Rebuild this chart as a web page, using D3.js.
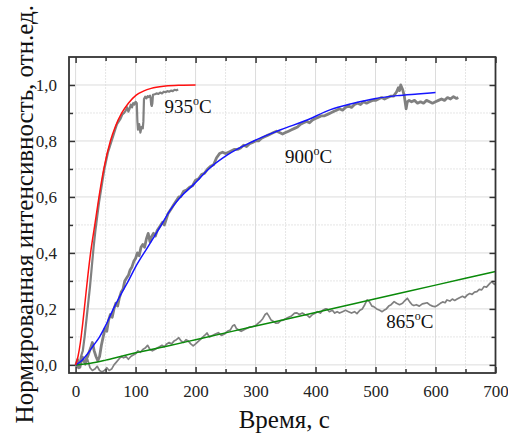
<!DOCTYPE html>
<html><head><meta charset="utf-8">
<script src="https://cdn.jsdelivr.net/npm/d3@7"></script>
</head>
<body style="margin:0">
<svg id="chart" width="508" height="435"></svg>
<script>
// ---- data ----
const xTicks = [0,100,200,300,400,500,600,700];
const yTicks = [0,0.2,0.4,0.6,0.8,1.0];
const xTitle = "Время, с";
const yTitle = "Нормированная интенсивность, отн.ед.";

// fits
const fit935T = [0,4,8,12,16,20,25,32,39,47,58,66,77,88,101,113,126,150,175,200];
const fit935Y = [0,0.03,0.08,0.15,0.23,0.31,0.4,0.5,0.6,0.7,0.8,0.85,0.9,0.935,0.964,0.978,0.988,0.996,0.999,1.0];
const fit900T = [0,10,20,30,40,50,63,75,88,100,120,140,160,175,197,222,253,297,342,386,425,460,500,536,570,600];
const fit900Y = [0,0.015,0.04,0.07,0.1,0.14,0.2,0.25,0.3,0.35,0.42,0.49,0.56,0.6,0.645,0.7,0.75,0.8,0.84,0.875,0.912,0.933,0.952,0.962,0.968,0.973];
const fit865T = [0,25,50,75,100,150,200,300,400,500,600,700];
const fit865Y = [0,0.006,0.017,0.03,0.043,0.066,0.09,0.139,0.187,0.236,0.285,0.334];

// measured
const exp935T = [0,3,6,9,12,15,18,21,24,27,30,33,36,39,42,45,48,51,54,57,60,63,66,69,72,75,78,81,84,86,88,90,92,94,96,98,100,102,103,104,106,108,110,112,113,114,116,118,120,122,124,125,126,127,128,129,132,135,138,141,144,147,150,153,156,159,162,165,168,171];
const exp935Y = [0,0.02,-0.01,0.03,0.05,0.1,0.16,0.22,0.28,0.35,0.42,0.48,0.53,0.58,0.62,0.66,0.7,0.73,0.76,0.78,0.8,0.82,0.84,0.86,0.87,0.88,0.895,0.9,0.91,0.92,0.905,0.915,0.93,0.92,0.935,0.93,0.94,0.935,0.87,0.84,0.86,0.83,0.85,0.845,0.87,0.95,0.958,0.952,0.96,0.957,0.962,0.955,0.93,0.925,0.935,0.965,0.967,0.97,0.968,0.973,0.97,0.976,0.974,0.978,0.976,0.98,0.978,0.983,0.981,0.984];

const exp900T = [0,5,10,15,20,25,28,31,34,37,40,43,46,49,52,55,58,61,64,67,70,73,76,79,82,85,88,91,94,97,100,103,106,109,112,115,118,121,124,127,130,133,136,139,142,145,148,151,154,157,160,163,166,169,172,175,180,185,190,195,200,205,210,215,220,225,230,235,240,245,250,255,260,265,270,275,280,285,290,295,300,305,310,315,320,325,330,335,340,345,350,355,360,365,370,375,380,385,390,395,400,405,410,415,420,425,430,435,440,445,450,455,460,465,470,475,480,485,490,495,500,505,510,515,520,525,530,535,538,540,542,545,548,551,553,556,560,565,570,575,580,585,590,595,600,605,610,615,620,625,630,635,638];
const exp900Y = [0,-0.01,0.02,0.01,0.03,0.06,0.08,0.05,0.03,0.015,0.03,0.07,0.1,0.13,0.12,0.16,0.18,0.17,0.2,0.22,0.21,0.24,0.26,0.27,0.3,0.31,0.32,0.34,0.35,0.37,0.38,0.4,0.39,0.42,0.43,0.42,0.45,0.47,0.44,0.46,0.47,0.46,0.48,0.49,0.5,0.51,0.5,0.52,0.54,0.55,0.56,0.57,0.58,0.59,0.6,0.6,0.62,0.625,0.635,0.64,0.66,0.665,0.68,0.685,0.7,0.71,0.715,0.74,0.755,0.76,0.755,0.76,0.765,0.77,0.77,0.775,0.785,0.78,0.79,0.795,0.8,0.8,0.81,0.815,0.82,0.825,0.83,0.835,0.83,0.825,0.83,0.835,0.84,0.845,0.85,0.86,0.865,0.87,0.865,0.875,0.88,0.885,0.89,0.89,0.895,0.9,0.905,0.91,0.915,0.91,0.92,0.925,0.92,0.93,0.935,0.93,0.94,0.935,0.94,0.945,0.945,0.95,0.955,0.95,0.955,0.96,0.96,0.975,0.99,0.98,1.0,0.985,0.96,0.915,0.94,0.945,0.94,0.945,0.935,0.94,0.935,0.945,0.94,0.935,0.94,0.945,0.95,0.945,0.955,0.95,0.958,0.952,0.955];

const exp865T = [0,4,8,12,16,20,24,28,32,36,40,44,48,52,56,60,64,68,72,76,80,84,88,92,96,100,104,108,112,116,120,124,128,132,136,140,144,148,152,156,160,164,168,172,176,180,184,188,192,196,200,205,210,215,219,223,228,233,238,243,248,253,258,262,265,268,272,276,280,285,290,295,300,305,308,312,316,319,322,326,330,334,338,342,346,350,355,360,365,369,373,378,382,386,390,395,400,403,408,412,416,419,423,428,432,436,440,445,450,455,460,465,469,474,478,482,486,490,494,497,502,507,511,514,518,522,526,531,535,540,545,549,553,557,561,564,568,573,578,582,586,590,595,599,603,608,612,616,619,624,628,632,636,640,645,649,653,657,661,665,669,673,677,681,685,688,691,694,697,700];
const exp865Y = [0,0.02,-0.01,0.03,0,0.02,-0.01,-0.02,-0.015,-0.005,-0.02,-0.025,-0.02,-0.01,-0.02,-0.015,0,0.01,0.02,0.03,0.025,0.03,0.02,0.03,0.035,0.04,0.05,0.045,0.055,0.06,0.07,0.055,0.05,0.055,0.06,0.065,0.07,0.065,0.075,0.08,0.075,0.085,0.09,0.097,0.085,0.08,0.09,0.085,0.075,0.068,0.075,0.085,0.095,0.105,0.114,0.1,0.105,0.11,0.115,0.105,0.11,0.12,0.125,0.14,0.143,0.13,0.125,0.12,0.125,0.13,0.135,0.137,0.14,0.15,0.155,0.165,0.18,0.185,0.175,0.16,0.155,0.149,0.15,0.158,0.16,0.165,0.17,0.175,0.185,0.186,0.18,0.185,0.18,0.178,0.17,0.18,0.185,0.19,0.185,0.195,0.2,0.2,0.19,0.195,0.185,0.19,0.185,0.19,0.195,0.19,0.185,0.19,0.183,0.195,0.2,0.215,0.232,0.225,0.21,0.208,0.2,0.195,0.19,0.195,0.2,0.21,0.215,0.226,0.22,0.215,0.22,0.23,0.238,0.225,0.215,0.212,0.215,0.21,0.218,0.22,0.222,0.215,0.21,0.208,0.212,0.22,0.225,0.222,0.232,0.228,0.235,0.23,0.235,0.24,0.245,0.24,0.25,0.255,0.252,0.26,0.262,0.27,0.268,0.28,0.278,0.285,0.292,0.297,0.29,0.286];

const labels = [
  {text:"935", t:148, y:0.9},
  {text:"900", t:349, y:0.72},
  {text:"865", t:518, y:0.13}
];

// ---- drawing ----
const FONT = "'Liberation Serif'";
const svg = d3.select("#chart").style("font-family", FONT);
const L = 69, R = 495.5, T = 57, B = 373;
const x = d3.scaleLinear().domain([-11, 700]).range([L, R]);
const y = d3.scaleLinear().domain([-0.029, 1.1]).range([B, T]);

const xMinor = d3.range(50, 700, 100);
const yMinor = [0.1,0.3,0.5,0.7,0.9];

// grid
const g = svg.append("g");
g.selectAll(".gxm").data(xMinor).join("line")
  .attr("x1", d=>x(d)).attr("x2", d=>x(d)).attr("y1", T).attr("y2", B)
  .attr("stroke", "#e6e6e6").attr("stroke-width", 1).attr("stroke-dasharray","2,1");
g.selectAll(".gym").data(yMinor).join("line")
  .attr("y1", d=>y(d)).attr("y2", d=>y(d)).attr("x1", L).attr("x2", R)
  .attr("stroke", "#e6e6e6").attr("stroke-width", 1).attr("stroke-dasharray","2,1");
g.selectAll(".gx").data(xTicks).join("line")
  .attr("x1", d=>x(d)).attr("x2", d=>x(d)).attr("y1", T).attr("y2", B)
  .attr("stroke", "#dcdcdc").attr("stroke-width", 1);
g.selectAll(".gy").data(yTicks).join("line")
  .attr("y1", d=>y(d)).attr("y2", d=>y(d)).attr("x1", L).attr("x2", R)
  .attr("stroke", "#dcdcdc").attr("stroke-width", 1);

// clip
svg.append("clipPath").attr("id","clip").append("rect")
  .attr("x", L).attr("y", T).attr("width", R-L).attr("height", B-T);

const plot = svg.append("g").attr("clip-path","url(#clip)");
function pts(T_, Y_){ return T_.map((t,i)=>[t, Y_[i]]); }
const lineRaw = d3.line().x(d=>x(d[0])).y(d=>y(d[1]));
const lineFit = d3.line().x(d=>x(d[0])).y(d=>y(d[1])).curve(d3.curveMonotoneX);

plot.append("path").datum(pts(exp865T, exp865Y)).attr("d", lineRaw)
  .attr("fill","none").attr("stroke","#808080").attr("stroke-width",1.7).attr("stroke-linejoin","round");
plot.append("path").datum(pts(exp900T, exp900Y)).attr("d", lineRaw)
  .attr("fill","none").attr("stroke","#808080").attr("stroke-width",2.8).attr("stroke-linejoin","round");
plot.append("path").datum(pts(exp935T, exp935Y)).attr("d", lineRaw)
  .attr("fill","none").attr("stroke","#808080").attr("stroke-width",2.2).attr("stroke-linejoin","round");

plot.append("path").datum(pts(fit865T, fit865Y)).attr("d", lineFit)
  .attr("fill","none").attr("stroke","#0a8a0a").attr("stroke-width",1.5);
plot.append("path").datum(pts(fit900T, fit900Y)).attr("d", lineFit)
  .attr("fill","none").attr("stroke","#1515ff").attr("stroke-width",1.5);
plot.append("path").datum(pts(fit935T, fit935Y)).attr("d", lineFit)
  .attr("fill","none").attr("stroke","#ff1010").attr("stroke-width",1.5);

// axes (inward ticks)
const fmt = d => d3.format(".1f")(d).replace(".", ",");
function ax(gen, tx, ty){ return svg.append("g").attr("transform",`translate(${tx},${ty})`).call(gen); }
const axB = ax(d3.axisBottom(x).tickValues(xTicks).tickSizeInner(-6).tickSizeOuter(0).tickPadding(12).tickFormat(d3.format("d")), 0, B);
const axBm = ax(d3.axisBottom(x).tickValues(xMinor).tickSizeInner(-4).tickSizeOuter(0).tickFormat(""), 0, B);
const axT = ax(d3.axisTop(x).tickValues(xTicks).tickSizeInner(-6).tickSizeOuter(0).tickFormat(""), 0, T);
const axTm = ax(d3.axisTop(x).tickValues(xMinor).tickSizeInner(-4).tickSizeOuter(0).tickFormat(""), 0, T);
const axL = ax(d3.axisLeft(y).tickValues(yTicks).tickSizeInner(-6).tickSizeOuter(0).tickPadding(12).tickFormat(fmt), L, 0);
const axLm = ax(d3.axisLeft(y).tickValues(yMinor).tickSizeInner(-4).tickSizeOuter(0).tickFormat(""), L, 0);
const axR = ax(d3.axisRight(y).tickValues(yTicks).tickSizeInner(-6).tickSizeOuter(0).tickFormat(""), R, 0);
const axRm = ax(d3.axisRight(y).tickValues(yMinor).tickSizeInner(-4).tickSizeOuter(0).tickFormat(""), R, 0);

[axB,axBm,axT,axTm,axL,axLm,axR,axRm].forEach(a=>{
  a.attr("font-family", null).attr("font-size", null);
  a.select(".domain").remove();
  a.selectAll(".tick line").attr("stroke","#333").attr("stroke-width",1.5);
  a.selectAll(".tick text").style("font-family",FONT).attr("font-size",17).attr("fill","#222");
});
axL.selectAll(".tick text").attr("dy","0.35em");

// frame
svg.append("rect").attr("x",L).attr("y",T).attr("width",R-L).attr("height",B-T)
  .attr("fill","none").attr("stroke","#333").attr("stroke-width",1.8);

// series labels
labels.forEach(lb=>{
  const t = svg.append("text").attr("x", x(lb.t)).attr("y", y(lb.y))
    .style("font-family",FONT).attr("font-size",19).attr("fill","#111");
  t.append("tspan").text(lb.text);
  t.append("tspan").text("o").attr("font-size",12).attr("dy",-8);
  t.append("tspan").text("C").attr("dy",8);
});

// axis titles
svg.append("text").attr("x",(L+R)/2+2).attr("y",428).attr("text-anchor","middle")
  .style("font-family",FONT).attr("font-size",25).attr("fill","#111").text(xTitle);
svg.append("text").attr("transform","translate(33,5) rotate(-90)").attr("text-anchor","end")
  .style("font-family",FONT).attr("font-size",25).attr("fill","#111").text(yTitle);
</script>
</body></html>
